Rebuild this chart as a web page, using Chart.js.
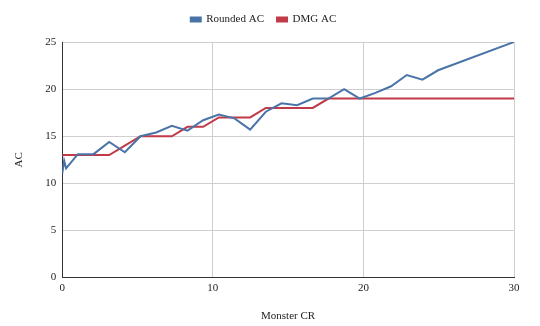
<!DOCTYPE html>
<html>
<head>
<meta charset="utf-8">
<script src="https://cdn.jsdelivr.net/npm/chart.js@4"></script>
<style>
    html, body { margin: 0; padding: 0; background: #fff; }
    #wrap { width: 540px; height: 326px; }
</style>
</head>
<body>
<div id="wrap"><canvas id="acChart" width="540" height="326"></canvas></div>
<script>
// x positions as they sit on the Monster CR axis (CR 0, 1/8, 1/4, 1/2, 1 ... 24, last point)
const crPositions = [0, 0.13, 0.26, 0.52, 1.04, 2.08, 3.12, 4.16, 5.2, 6.24, 7.28, 8.32,
    9.36, 10.4, 11.44, 12.48, 13.52, 14.56, 15.6, 16.64, 17.68, 18.72, 19.76, 20.8,
    21.84, 22.88, 23.92, 24.96, 30];
const roundedAC = [11, 12.4, 11.6, 12.1, 13.1, 13.1, 14.4, 13.3, 15, 15.4, 16.1, 15.6,
    16.7, 17.3, 16.9, 15.7, 17.6, 18.5, 18.3, 19, 19, 20, 19, 19.6,
    20.3, 21.5, 21, 22, 25];
const dmgAC = [13, 13, 13, 13, 13, 13, 13, 14, 15, 15, 15, 16,
    16, 17, 17, 17, 18, 18, 18, 18, 19, 19, 19, 19,
    19, 19, 19, 19, 19];
const xTicks = [0, 10, 20, 30];
const yTicks = [0, 5, 10, 15, 20, 25];

const blue = '#4a74a8';
const red = '#c03a48';
const textColor = '#222';
const serif = "'Liberation Serif', 'DejaVu Serif', serif";

function toPoints(ys) {
    return crPositions.map(function(x, i) { return { x: x, y: ys[i] }; });
}

// a bit of extra room between the legend and the plot
const legendGap = {
    id: 'legendGap',
    beforeInit: function(chart) {
        const fit = chart.legend.fit;
        chart.legend.fit = function() {
            fit.call(this);
            this.height += 7;
        };
    }
};

document.addEventListener('DOMContentLoaded', function() {
    const ctx = document.getElementById('acChart').getContext('2d');
    new Chart(ctx, {
        type: 'line',
        data: {
            datasets: [{
                label: 'Rounded AC',
                data: toPoints(roundedAC),
                borderColor: blue,
                backgroundColor: blue,
                borderWidth: 2,
                pointRadius: 0,
                tension: 0
            }, {
                label: 'DMG AC',
                data: toPoints(dmgAC),
                borderColor: red,
                backgroundColor: red,
                borderWidth: 2,
                pointRadius: 0,
                tension: 0
            }]
        },
        options: {
            responsive: false,
            animation: false,
            layout: { padding: { left: 13, right: 26, top: 1, bottom: 3 } },
            plugins: {
                legend: {
                    position: 'top',
                    labels: {
                        font: { family: serif, size: 11 },
                        color: textColor,
                        boxWidth: 10,
                        boxHeight: 4,
                        padding: 13
                    }
                },
                tooltip: { enabled: false }
            },
            scales: {
                x: {
                    type: 'linear',
                    min: 0,
                    max: 30,
                    afterBuildTicks: function(axis) {
                        axis.ticks = xTicks.map(function(v) { return { value: v }; });
                    },
                    grid: { color: '#cfcfcf', drawTicks: false },
                    border: { color: '#333', width: 1 },
                    ticks: {
                        color: textColor,
                        font: { family: serif, size: 11 },
                        padding: 4,
                        maxRotation: 0
                    },
                    title: {
                        display: true,
                        text: 'Monster CR',
                        color: textColor,
                        font: { family: serif, size: 11 },
                        padding: { top: 11, bottom: 0 }
                    }
                },
                y: {
                    min: 0,
                    max: 25,
                    afterBuildTicks: function(axis) {
                        axis.ticks = yTicks.map(function(v) { return { value: v }; });
                    },
                    grid: { color: '#cfcfcf', drawTicks: false },
                    border: { color: '#333', width: 1 },
                    ticks: {
                        color: textColor,
                        font: { family: serif, size: 11 },
                        padding: 6
                    },
                    title: {
                        display: true,
                        text: 'AC',
                        color: textColor,
                        font: { family: serif, size: 11 },
                        padding: { top: 0, bottom: 13 }
                    }
                }
            }
        },
        plugins: [legendGap]
    });
});
</script>
</body>
</html>
